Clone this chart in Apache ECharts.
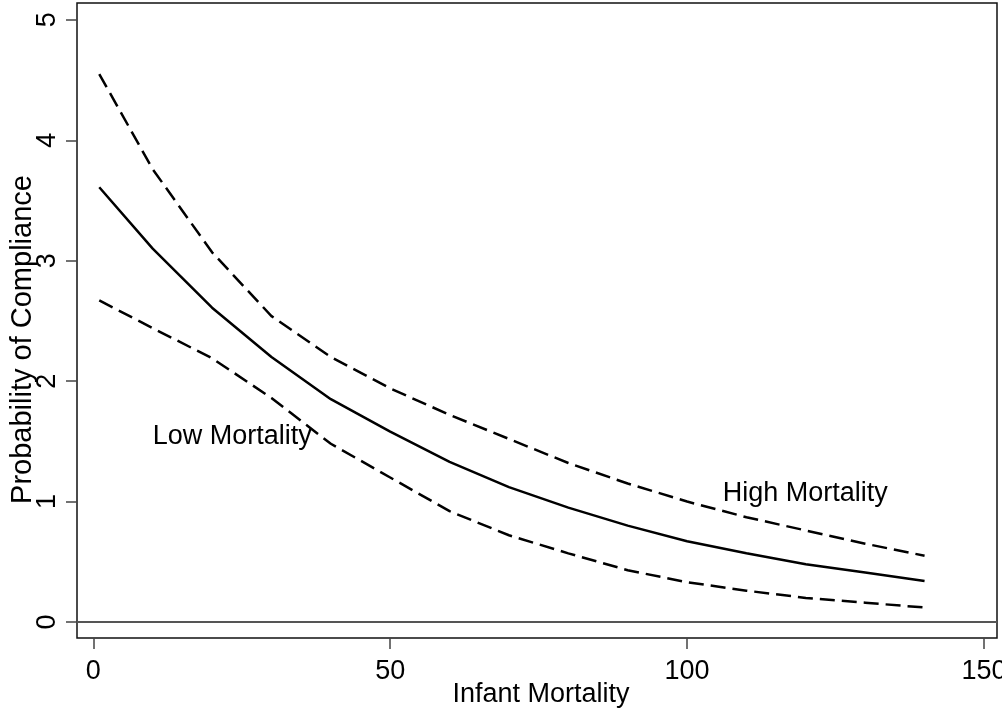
<!DOCTYPE html>
<html>
<head>
<meta charset="utf-8">
<script src="https://cdn.jsdelivr.net/npm/echarts@6/dist/echarts.min.js"></script>
<style>
  html, body { margin: 0; padding: 0; background: #fff; }
  #main { width: 1002px; height: 709px; }
</style>
</head>
<body>
<div id="main"></div>
<script>
// infant mortality values where the curves are evaluated
var mortality = [1, 10, 20, 30, 40, 50, 60, 70, 80, 90, 100, 110, 120, 130, 140];
// predicted compliance and the upper / lower bands
var predicted = [3.61, 3.10, 2.61, 2.20, 1.85, 1.58, 1.33, 1.12, 0.95, 0.80, 0.67, 0.57, 0.48, 0.41, 0.34];
var upperBand = [4.55, 3.76, 3.07, 2.54, 2.20, 1.94, 1.72, 1.52, 1.32, 1.15, 1.00, 0.87, 0.76, 0.65, 0.55];
var lowerBand = [2.67, 2.44, 2.19, 1.86, 1.48, 1.20, 0.92, 0.72, 0.57, 0.43, 0.33, 0.26, 0.20, 0.16, 0.12];
// axis ticks
var xTicks = [0, 50, 100, 150];
var yTicks = [0, 1, 2, 3, 4, 5];
// text notes on the plot
var noteText = ['Low Mortality', 'High Mortality'];
var noteX = [10, 106];
var noteY = [1.54, 1.07];

function pairs(xs, ys) {
    return xs.map(function (x, i) { return [x, ys[i]]; });
}

var font = '"Liberation Sans", Arial, sans-serif';
var myChart = echarts.init(document.getElementById('main'), null, {renderer: 'canvas'});

var option = {
    backgroundColor: '#fff',
    animation: false,
    grid: {
        left: 77, top: 3, right: 5, bottom: 71,
        outerBoundsMode: 'none',
        containLabel: false,
        show: true,
        borderColor: '#111',
        borderWidth: 1.5,
        backgroundColor: '#fff'
    },
    xAxis: {
        type: 'value',
        min: -2.75,
        max: 152.2,
        name: 'Infant Mortality',
        nameLocation: 'middle',
        nameGap: 43,
        nameMoveOverlap: false,
        nameTextStyle: {fontSize: 27, color: '#000', fontFamily: font, padding: [0, 0, 0, 8]},
        axisLine: {show: false, onZero: false},
        axisTick: {show: true, customValues: xTicks, length: 11, lineStyle: {color: '#444', width: 1.5}},
        axisLabel: {customValues: xTicks, fontSize: 27, color: '#000', fontFamily: font, margin: 20},
        splitLine: {show: false}
    },
    yAxis: {
        type: 'value',
        min: -0.133,
        max: 5.14,
        name: 'Probability of Compliance',
        nameLocation: 'middle',
        nameGap: 40,
        nameMoveOverlap: false,
        nameTextStyle: {fontSize: 29, color: '#000', fontFamily: font, padding: [0, 38, 0, 0]},
        axisLine: {show: false, onZero: false},
        axisTick: {show: true, customValues: yTicks, length: 11, lineStyle: {color: '#444', width: 1.5}},
        axisLabel: {customValues: yTicks, rotate: 90, fontSize: 27, color: '#000', fontFamily: font, margin: 16},
        splitLine: {show: false}
    },
    series: [
        {
            name: 'predicted',
            type: 'line',
            data: pairs(mortality, predicted),
            symbol: 'none',
            lineStyle: {color: '#000', width: 2.5, type: 'solid'},
            markLine: {
                silent: true,
                symbol: 'none',
                label: {show: false},
                lineStyle: {color: '#555', width: 2, type: 'solid'},
                data: [{yAxis: 0}]
            },
            z: 3
        },
        {
            name: 'upper',
            type: 'line',
            data: pairs(mortality, upperBand),
            symbol: 'none',
            lineStyle: {color: '#000', width: 2.5, type: [15, 7]},
            z: 3
        },
        {
            name: 'lower',
            type: 'line',
            data: pairs(mortality, lowerBand),
            symbol: 'none',
            lineStyle: {color: '#000', width: 2.5, type: [15, 7]},
            z: 3
        },
        {
            name: 'notes',
            type: 'scatter',
            symbolSize: 0,
            silent: true,
            data: noteText.map(function (t, i) { return {name: t, value: [noteX[i], noteY[i]]}; }),
            label: {
                show: true,
                position: 'right',
                distance: 0,
                formatter: '{b}',
                fontSize: 27,
                color: '#000',
                opacity: 1,
                fontFamily: font
            },
            emphasis: {disabled: true},
            z: 4
        }
    ]
};

window.onresize = myChart.resize;
myChart.setOption(option);
</script>
</body>
</html>
